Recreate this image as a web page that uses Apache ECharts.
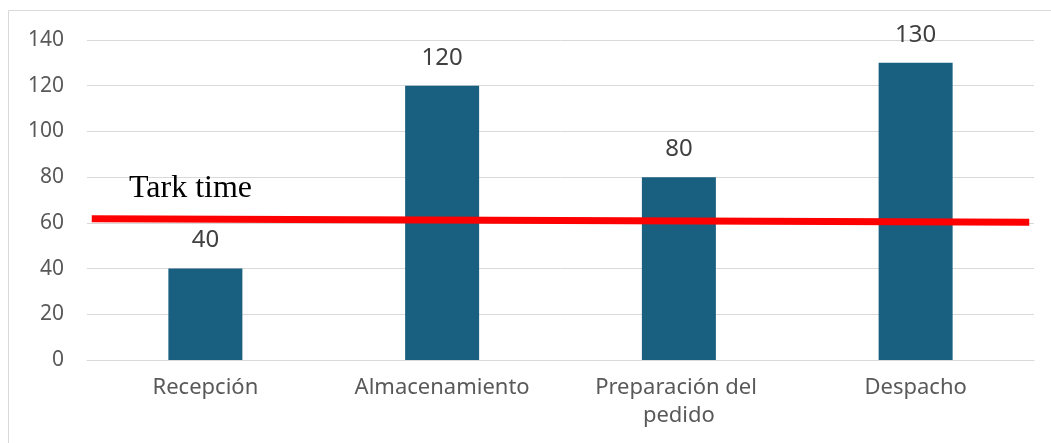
<!DOCTYPE html>
<html>
<head>
<meta charset="utf-8">
<script src="https://cdn.jsdelivr.net/npm/echarts@6/dist/echarts.min.js"></script>
<style>
  html, body { margin: 0; padding: 0; background: #fff; }
  #chart { width: 1051px; height: 443px; }
</style>
</head>
<body>
<div id="chart"></div>
<script>
const categories = ['Recepción', 'Almacenamiento', 'Preparación del pedido', 'Despacho'];
const tiempos = [40, 120, 80, 130];
const yTicks = { min: 0, max: 140, interval: 20 };
// takt time line: [position along plot (0..1), value]
const taktLine = [[0.005, 61.8], [0.995, 60.3]];
const taktLabel = 'Tark time';

const chart = echarts.init(document.getElementById('chart'));
const option = {
  animation: false,
  title: {
    text: taktLabel,
    left: 129,
    top: 173,
    padding: 0,
    textStyle: {
      fontFamily: 'Liberation Serif',
      fontSize: 32,
      fontWeight: 'normal',
      color: '#000'
    }
  },
  graphic: [{
    type: 'rect',
    shape: { x: 8.5, y: 10.5, width: 1100, height: 500 },
    style: { fill: 'none', stroke: '#d9d9d9', lineWidth: 1 },
    silent: true
  }],
  grid: { left: 87, right: 17, top: 40, bottom: 83 },
  xAxis: [{
    type: 'category',
    data: categories,
    axisTick: { show: false },
    axisLine: { lineStyle: { color: '#d9d9d9', width: 1 } },
    axisLabel: {
      color: '#595959',
      fontFamily: 'Noto Sans',
      fontSize: 22,
      lineHeight: 28,
      margin: 14,
      width: 200,
      overflow: 'break',
      interval: 0
    }
  }, {
    type: 'value',
    min: 0,
    max: 1,
    show: false
  }],
  yAxis: {
    type: 'value',
    min: yTicks.min,
    max: yTicks.max,
    interval: yTicks.interval,
    axisLine: { show: false },
    axisTick: { show: false },
    splitLine: { lineStyle: { color: '#d9d9d9', width: 1 } },
    axisLabel: {
      color: '#595959',
      fontFamily: 'Noto Sans',
      fontSize: 21,
      margin: 23
    }
  },
  series: [{
    type: 'bar',
    data: tiempos,
    barWidth: 74,
    itemStyle: { color: '#195f80' },
    label: {
      show: true,
      position: 'top',
      distance: 16,
      color: '#404040',
      fontFamily: 'Noto Sans',
      fontSize: 24
    }
  }, {
    type: 'line',
    xAxisIndex: 1,
    data: taktLine,
    symbol: 'none',
    lineStyle: { color: '#ff0000', width: 7 },
    z: 5
  }]
};
chart.setOption(option);
</script>
</body>
</html>
